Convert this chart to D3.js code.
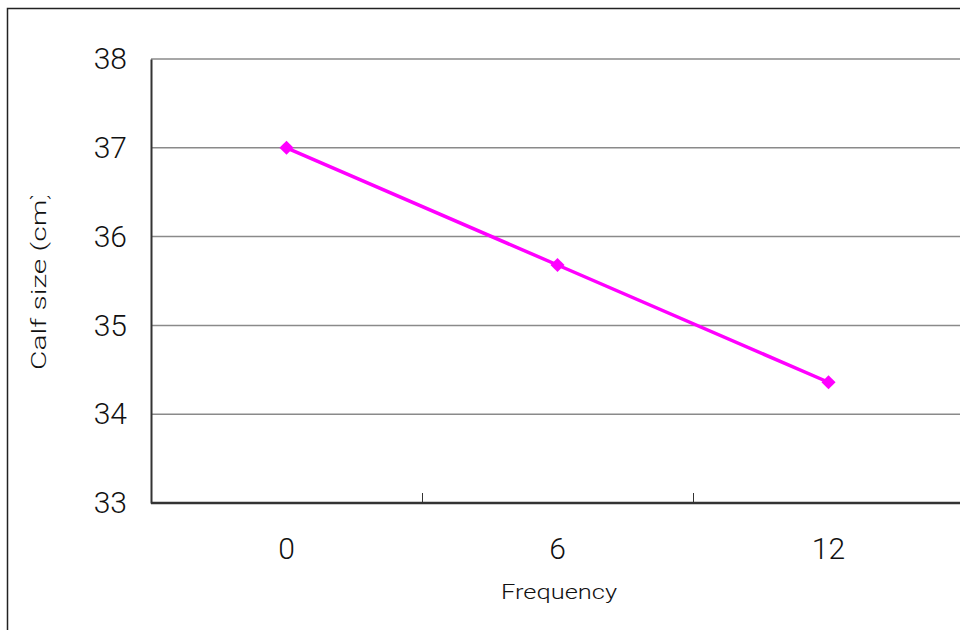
<!DOCTYPE html>
<html>
<head>
<meta charset="utf-8">
<script src="https://cdn.jsdelivr.net/npm/d3@7"></script>
<style>
  body { margin: 0; background: #fff; }
  svg { display: block; font-family: Roboto, "Liberation Sans", Arial, sans-serif; font-weight: 300; }
</style>
</head>
<body>
<div id="chart"></div>
<script>
// data
var categories = ["0", "6", "12"];
var calfSize = [37.0, 35.68, 34.36];
var yTicks = [33, 34, 35, 36, 37, 38];

var W = 960, H = 630;
var plot = {left: 151, top: 59, right: 964, bottom: 503};
var font = "Roboto, Liberation Sans, Arial, sans-serif";

var svg = d3.select("#chart").append("svg").attr("width", W).attr("height", H);

// outer frame (runs off the right and bottom edge)
svg.append("rect").attr("x", 7.5).attr("y", 8.5).attr("width", 1000).attr("height", 700)
    .attr("fill", "none").attr("stroke", "#222").attr("stroke-width", 1.5);

var x = d3.scaleBand().domain(categories).range([plot.left, plot.right]);
var y = d3.scaleLinear().domain([33, 38]).range([plot.bottom, plot.top]);

// gridlines
svg.append("g").selectAll("line").data(yTicks.slice(1)).enter().append("line")
    .attr("x1", plot.left).attr("x2", plot.right)
    .attr("y1", function(d) { return y(d); }).attr("y2", function(d) { return y(d); })
    .attr("stroke", "#8a8a8a").attr("stroke-width", 1.5);

// y axis
var yAxis = d3.axisLeft(y).tickValues(yTicks).tickFormat(d3.format("d")).tickSize(0).tickPadding(24);
var gy = svg.append("g").attr("transform", "translate(" + plot.left + ",0)").call(yAxis);
gy.select(".domain").attr("stroke", "#333").attr("stroke-width", 2);
gy.selectAll("text").attr("font-size", 30).attr("fill", "#111")
    .attr("font-family", font).attr("font-weight", 300);

// x axis - ticks sit between categories and point inward
var gx = svg.append("g").attr("transform", "translate(0," + plot.bottom + ")");
gx.append("line").attr("x1", plot.left).attr("x2", plot.right)
    .attr("stroke", "#333").attr("stroke-width", 2.5);
gx.selectAll("line.tick").data(categories.slice(1)).enter().append("line").attr("class", "tick")
    .attr("x1", function(d) { return x(d) + 0.5; }).attr("x2", function(d) { return x(d) + 0.5; })
    .attr("y1", 0).attr("y2", -10).attr("stroke", "#333").attr("stroke-width", 1);
gx.selectAll("text").data(categories).enter().append("text")
    .attr("x", function(d) { return x(d) + x.bandwidth() / 2; })
    .attr("y", 56).attr("text-anchor", "middle")
    .attr("font-size", 30).attr("fill", "#111").text(function(d) { return d; });

// axis titles
svg.append("text").attr("x", 559).attr("y", 599).attr("text-anchor", "middle")
    .attr("font-size", 21).attr("fill", "#111")
    .attr("textLength", 116).attr("lengthAdjust", "spacingAndGlyphs").text("Frequency");

svg.append("clipPath").attr("id", "ttlClip").append("rect")
    .attr("x", 0).attr("y", 196).attr("width", 140).attr("height", 300);
svg.append("g").attr("clip-path", "url(#ttlClip)").append("text")
    .attr("transform", "translate(46,370) rotate(-90)")
    .attr("font-size", 21).attr("fill", "#111")
    .attr("textLength", 180).attr("lengthAdjust", "spacingAndGlyphs").text("Calf size (cm)");

// series
var pts = categories.map(function(c, i) { return {c: c, v: calfSize[i]}; });
var line = d3.line()
    .x(function(d) { return x(d.c) + x.bandwidth() / 2; })
    .y(function(d) { return y(d.v); });
svg.append("path").datum(pts).attr("d", line)
    .attr("fill", "none").attr("stroke", "#ff00ff").attr("stroke-width", 3.5);
svg.selectAll("path.mark").data(pts).enter().append("path").attr("class", "mark")
    .attr("d", d3.symbol().type(d3.symbolSquare).size(100))
    .attr("transform", function(d) {
        return "translate(" + (x(d.c) + x.bandwidth() / 2) + "," + y(d.v) + ") rotate(45)";
    })
    .attr("fill", "#ff00ff");
</script>
</body>
</html>
